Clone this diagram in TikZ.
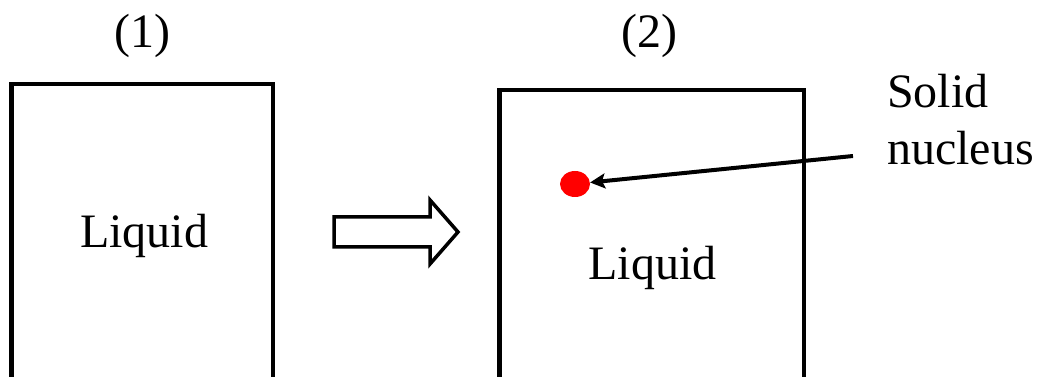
\documentclass[tikz,border=0pt]{standalone}
\usepackage{fontspec}
\IfFontExistsTF{LiberationSerif-Regular.ttf}
  {\newfontfamily\serifrm{LiberationSerif-Regular.ttf}}
  {\newfontfamily\serifrm{Liberation Serif}}
\usetikzlibrary{arrows.meta,shapes.geometric}
\begin{document}
\begin{tikzpicture}[x=1pt,y=1pt,
  tank/.style={line width=4.5pt},
  lbl/.style={font=\serifrm\fontsize{48}{57}\selectfont,inner sep=0pt,anchor=base},
  nucleus/.style={ellipse,fill=red,minimum width=30pt,minimum height=26pt,inner sep=0pt},
  pointer/.style={line width=4pt,-{Stealth[length=15pt,width=15pt,inset=3pt]}},
  hollow/.style={line width=3.5pt,line join=miter}]
  \useasboundingbox (0,0) rectangle (1041,377);
  % the two containers, open below the frame
  \draw[tank] (11.7,0) |- (272.8,293) -- (272.8,0);
  \draw[tank] (499.5,0) |- (803.8,287.2) -- (803.8,0);
  \node[lbl] (num1) at (142.5,329) {(1)};
  \node[lbl] (num2) at (649,329) {(2)};
  \node[lbl] (liq1) at (144,129) {Liquid};
  \node[lbl] (liq2) at (652.5,97) {Liquid};
  % nucleus and its label
  \node[nucleus] (nuc) at (575,193) {};
  \node[lbl,anchor=base west,align=left] (solid) at (887,212) {Solid\\nucleus};
  \coordinate (tail) at (853,221);
  \draw[pointer] (tail) -- (nuc);
  % hollow arrow between the states
  \coordinate (step) at (334,145);
  \draw[hollow] (step) ++(0,15) -- ++(96,0) -- ++(0,17) -- ++(28,-32)
    -- ++(-28,-32) -- ++(0,17) -- ++(-96,0) -- cycle;
\end{tikzpicture}
\end{document}
